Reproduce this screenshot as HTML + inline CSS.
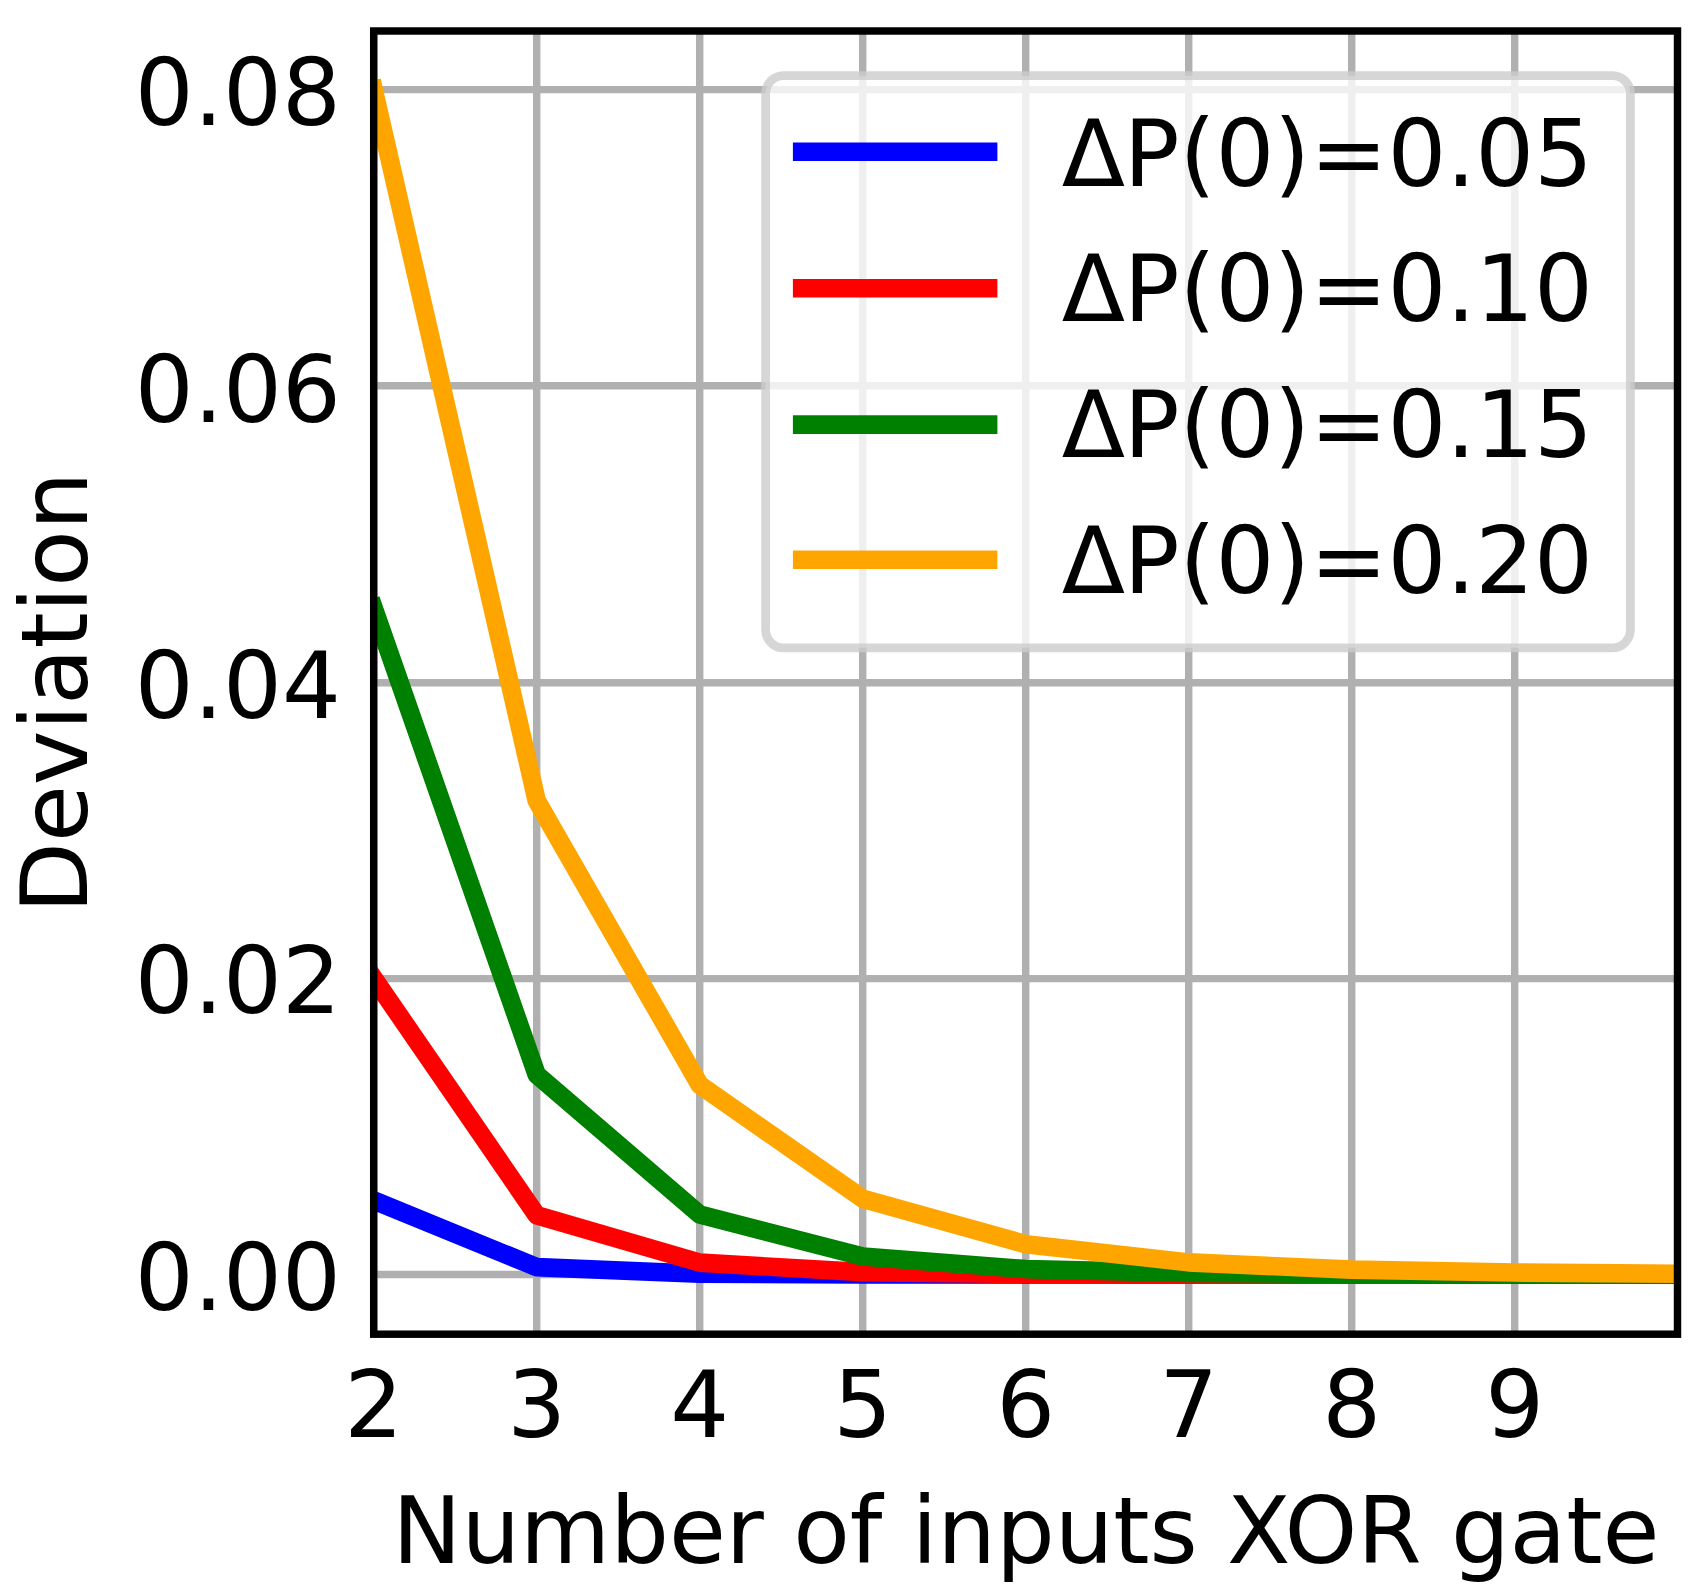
<!DOCTYPE html>
<html lang="en">
<head>
<meta charset="utf-8">
<title>Deviation vs number of inputs XOR gate</title>
<style>
html,body{margin:0;padding:0;background:#fff;}
body{width:1700px;height:1593px;overflow:hidden;}
svg{display:block;}
text{font-family:"DejaVu Sans","Liberation Sans",sans-serif;font-size:92.60px;fill:#000;}
</style>
</head>
<body>
<svg width="1700" height="1593" viewBox="0 0 1700 1593">
<rect x="0" y="0" width="1700" height="1593" fill="#ffffff"/>
<defs><clipPath id="ax"><rect x="373.70" y="31.00" width="1303.80" height="1303.20"/></clipPath></defs>
<g stroke="#b0b0b0" stroke-width="7.45" fill="none" clip-path="url(#ax)">
<line x1="373.70" y1="31.00" x2="373.70" y2="1334.20"/>
<line x1="536.70" y1="31.00" x2="536.70" y2="1334.20"/>
<line x1="699.70" y1="31.00" x2="699.70" y2="1334.20"/>
<line x1="862.70" y1="31.00" x2="862.70" y2="1334.20"/>
<line x1="1025.70" y1="31.00" x2="1025.70" y2="1334.20"/>
<line x1="1188.70" y1="31.00" x2="1188.70" y2="1334.20"/>
<line x1="1351.70" y1="31.00" x2="1351.70" y2="1334.20"/>
<line x1="1514.70" y1="31.00" x2="1514.70" y2="1334.20"/>
<line x1="373.70" y1="1274.50" x2="1677.50" y2="1274.50"/>
<line x1="373.70" y1="978.60" x2="1677.50" y2="978.60"/>
<line x1="373.70" y1="682.80" x2="1677.50" y2="682.80"/>
<line x1="373.70" y1="385.80" x2="1677.50" y2="385.80"/>
<line x1="373.70" y1="89.60" x2="1677.50" y2="89.60"/>
</g>
<g fill="none" stroke-width="18.60" stroke-linejoin="round" stroke-linecap="square" clip-path="url(#ax)">
<polyline stroke="#0000ff" points="373.70,1200.45 536.70,1267.10 699.70,1273.76 862.70,1274.43 1025.70,1274.49 1188.70,1274.50 1351.70,1274.50 1514.70,1274.50 1677.70,1274.50"/>
<polyline stroke="#ff0000" points="373.70,978.30 536.70,1215.26 699.70,1262.65 862.70,1272.13 1025.70,1274.03 1188.70,1274.41 1351.70,1274.48 1514.70,1274.50 1677.70,1274.50"/>
<polyline stroke="#008000" points="373.70,608.05 536.70,1074.57 699.70,1214.52 862.70,1256.51 1025.70,1269.10 1188.70,1272.88 1351.70,1274.01 1514.70,1274.35 1677.70,1274.46"/>
<polyline stroke="#ffa500" points="373.70,89.70 536.70,800.58 699.70,1084.93 862.70,1198.67 1025.70,1244.17 1188.70,1262.37 1351.70,1269.65 1514.70,1272.56 1677.70,1273.72"/>
</g>
<rect x="373.70" y="31.00" width="1303.80" height="1303.20" fill="none" stroke="#000" stroke-width="7.45" stroke-linejoin="miter"/>
<text x="340.90" y="1310.40" text-anchor="end">0.00</text>
<text x="340.90" y="1013.45" text-anchor="end">0.02</text>
<text x="340.90" y="717.60" text-anchor="end">0.04</text>
<text x="340.90" y="421.55" text-anchor="end">0.06</text>
<text x="340.90" y="124.55" text-anchor="end">0.08</text>
<text x="373.70" y="1437.20" text-anchor="middle">2</text>
<text x="536.70" y="1437.20" text-anchor="middle">3</text>
<text x="699.70" y="1437.20" text-anchor="middle">4</text>
<text x="862.70" y="1437.20" text-anchor="middle">5</text>
<text x="1025.70" y="1437.20" text-anchor="middle">6</text>
<text x="1188.70" y="1437.20" text-anchor="middle">7</text>
<text x="1351.70" y="1437.20" text-anchor="middle">8</text>
<text x="1514.70" y="1437.20" text-anchor="middle">9</text>
<text x="1025.85" y="1563.40" text-anchor="middle" letter-spacing="-0.07">Number of inputs XOR gate</text>
<text transform="translate(87.30,692.50) rotate(-90)" text-anchor="middle" letter-spacing="-0.18">Deviation</text>
<rect x="765.60" y="75.70" width="864.80" height="572.10" rx="18.00" ry="18.00" fill="#ffffff" fill-opacity="0.8" stroke="#cccccc" stroke-opacity="0.8" stroke-width="8.80"/>
<line x1="802.20" y1="151.80" x2="988.10" y2="151.80" stroke="#0000ff" stroke-width="18.60" stroke-linecap="square"/>
<text x="1061.80" y="185.70" letter-spacing="-0.2" dx="0 -1.1">ΔP(0)=0.05</text>
<line x1="802.20" y1="288.30" x2="988.10" y2="288.30" stroke="#ff0000" stroke-width="18.60" stroke-linecap="square"/>
<text x="1061.80" y="320.50" letter-spacing="-0.2" dx="0 -1.1">ΔP(0)=0.10</text>
<line x1="802.20" y1="424.60" x2="988.10" y2="424.60" stroke="#008000" stroke-width="18.60" stroke-linecap="square"/>
<text x="1061.80" y="456.90" letter-spacing="-0.2" dx="0 -1.1">ΔP(0)=0.15</text>
<line x1="802.20" y1="559.70" x2="988.10" y2="559.70" stroke="#ffa500" stroke-width="18.60" stroke-linecap="square"/>
<text x="1061.80" y="593.10" letter-spacing="-0.2" dx="0 -1.1">ΔP(0)=0.20</text>
</svg>
</body>
</html>
